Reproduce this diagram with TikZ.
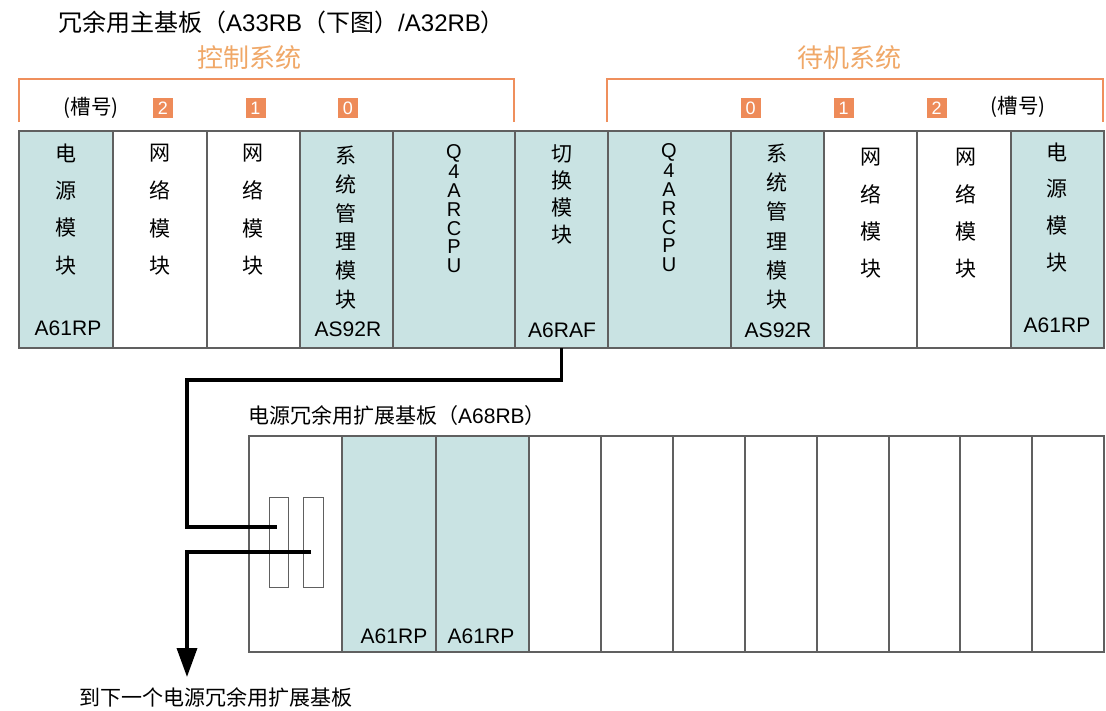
\documentclass[tikz,border=0pt]{standalone}
\usepackage{fontspec}
\setmainfont{Liberation Sans}
\newfontfamily\cjk{Noto Sans CJK SC}
\usetikzlibrary{arrows.meta}
\definecolor{teal1}{HTML}{C9E3E3}
\definecolor{gline}{HTML}{606060}
\definecolor{oline}{HTML}{EF8F5C}
\definecolor{otext}{HTML}{F0A868}
\definecolor{obox}{HTML}{EE8B59}
\newcommand\vstk[6][cjkch]{%
  \foreach \c [count=\k from 0] in {#5}
    \node[#1] (#6-\k) at (#2,{#3+\k*#4}) {\c};}
\begin{document}
\begin{tikzpicture}[x=1pt,y=-1pt,
  colbox/.style={draw=gline, line width=1.2pt, inner sep=0, outer sep=0, anchor=north west},
  cjkch/.style={font=\cjk\fontsize{21}{21}\selectfont, inner sep=0},
  latch/.style={font=\fontsize{20}{20}\selectfont, inner sep=0},
  lab/.style={font=\fontsize{21}{21}\selectfont, inner sep=0},
  slotno/.style={fill=obox, text=white, minimum width=20pt, minimum height=20pt, inner sep=0, font=\fontsize{18}{18}\selectfont},
  otitle/.style={font=\cjk\fontsize{26}{26}\selectfont, text=otext, inner sep=0},
  cable/.style={line width=3.5pt, black}]
\useasboundingbox[fill=white] (0,0) rectangle (1106,710);

% title
\node[anchor=west, inner sep=0, font=\fontsize{24}{24}\selectfont] (title) at (58,22)
  {{\cjk 冗余用主基板（}A33RB{\cjk （下图）}/A32RB{\cjk ）}};

% orange brackets and labels
\node[otitle] (ctl) at (249,58) {控制系统};
\node[otitle] (stb) at (849,58) {待机系统};
\draw[oline, line width=2pt] (19,122) -- (19,79) -- (514,79) -- (514,122);
\draw[oline, line width=2pt] (607,122) -- (607,79) -- (1103,79) -- (1103,122);
\node[font=\cjk\fontsize{20.5}{20.5}\selectfont, inner sep=0] (slotL) at (91,108) {(槽号)};
\node[font=\cjk\fontsize{20.5}{20.5}\selectfont, inner sep=0] (slotR) at (1018,107) {(槽号)};
\node[slotno] (l2) at (163,108) {2};
\node[slotno] (l1) at (255.5,108) {1};
\node[slotno] (l0) at (348,108) {0};
\node[slotno] (r0) at (750.5,108) {0};
\node[slotno] (r1) at (843.5,108) {1};
\node[slotno] (r2) at (936.5,108) {2};

% main base board
\foreach \xa/\xb/\f [count=\i] in {19/113/teal1,113/207/white,207/300/white,300/393/teal1,393/515/teal1,515/608/teal1,608/731/teal1,731/824/teal1,824/917/white,917/1011/white,1011/1104/teal1}
  \node[colbox, fill=\f, minimum width={\xb-\xa}, minimum height=217] (u\i) at (\xa,131) {};
\draw[gline, line width=2.2pt] (u1.north west) rectangle (u11.south east);

\vstk{66}{153}{37.4}{电,源,模,块}{ta}
\vstk{160}{153}{37.7}{网,络,模,块}{tb}
\vstk{253}{153}{37.7}{网,络,模,块}{tc}
\vstk{346}{155}{29}{系,统,管,理,模,块}{td}
\vstk[latch]{454}{153}{18.8}{Q,4,A,R,C,P,U}{te}
\vstk{562}{154}{27}{切,换,模,块}{tf}
\vstk[latch]{669}{152}{18.8}{Q,4,A,R,C,P,U}{tg}
\vstk{777}{153}{29.4}{系,统,管,理,模,块}{th}
\vstk{871}{157}{37.3}{网,络,模,块}{ti}
\vstk{966}{157}{37.3}{网,络,模,块}{tj}
\vstk{1057}{152}{37}{电,源,模,块}{tk}
\node[lab] (m1) at (68,328) {A61RP};
\node[lab] (m4) at (348,329) {AS92R};
\node[lab] (m6) at (562,330) {A6RAF};
\node[lab] (m8) at (778,330) {AS92R};
\node[lab] (m11) at (1057,325) {A61RP};

% extension base board
\node[anchor=west, inner sep=0, font=\fontsize{21}{21}\selectfont] (extlab) at (248,416)
  {{\cjk 电源冗余用扩展基板（}A68RB{\cjk ）}};
\foreach \xa/\xb/\f [count=\i] in {249/342/white,342/436/teal1,436/529/teal1,529/601/white,601/673/white,673/745/white,745/817/white,817/889/white,889/960/white,960/1032/white,1032/1104/white}
  \node[colbox, fill=\f, minimum width={\xb-\xa}, minimum height=216] (x\i) at (\xa,436) {};
\draw[gline, line width=2.2pt] (x1.north west) rectangle (x11.south east);
\node[lab] (p1) at (394,636) {A61RP};
\node[lab] (p2) at (481,636) {A61RP};
\node[draw=gline, line width=1pt, fill=white, minimum width=19, minimum height=90, inner sep=0, anchor=north west] (s1) at (269,497) {};
\node[draw=gline, line width=1pt, fill=white, minimum width=20, minimum height=90, inner sep=0, anchor=north west] (s2) at (303,497) {};

% cables
\coordinate (bendA) at (187,380);
\coordinate (e1) at (277,527);
\coordinate (e2) at (311,552);
\coordinate (tip) at (187,677);
\draw[cable] (u6.south) |- (bendA) |- (e1);
\draw[cable, -{Triangle[length=29pt,width=20pt]}] (e2) -| (tip);

\node[anchor=west, inner sep=0, font=\cjk\fontsize{21}{21}\selectfont] (next) at (79,697) {到下一个电源冗余用扩展基板};
\end{tikzpicture}
\end{document}
